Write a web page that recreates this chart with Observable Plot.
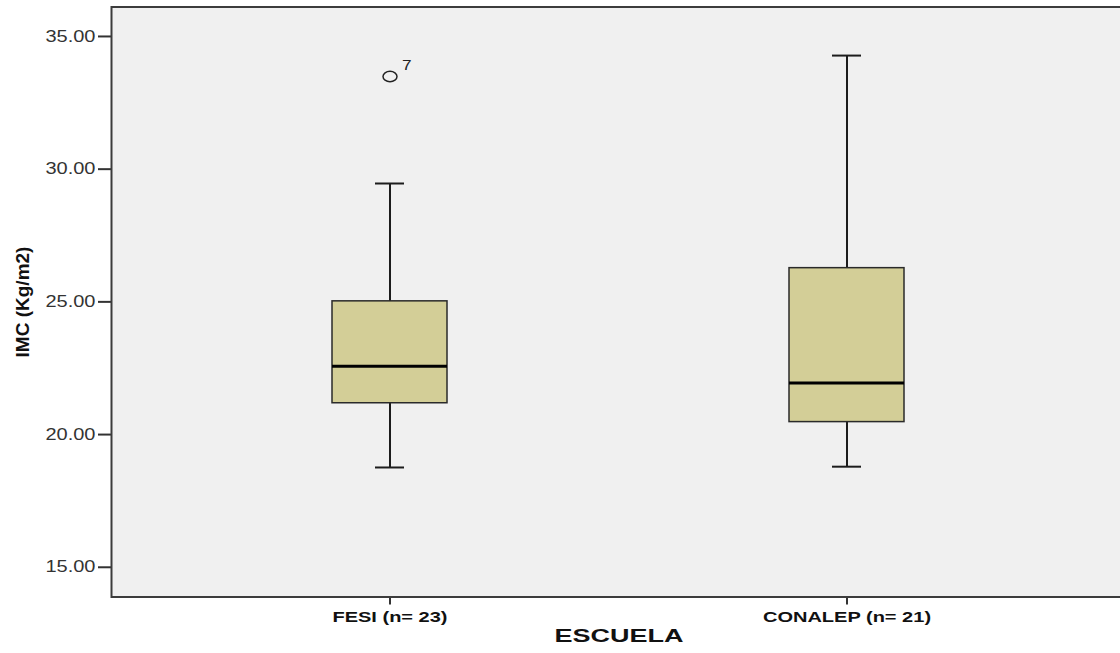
<!DOCTYPE html>
<html><head><meta charset="utf-8">
<script src="https://cdn.jsdelivr.net/npm/d3@7"></script>
<script src="https://cdn.jsdelivr.net/npm/@observablehq/plot@0.6"></script>
<style>
body{margin:0;background:#fff;overflow:hidden}
#chart svg{max-width:none !important;display:block}
</style>
</head><body><div id="chart"></div>
<script>
// --- data ---
const schools = ["FESI (n= 23)", "CONALEP (n= 21)"];
const whiskerLow = [18.76, 18.79];
const q1 = [21.18, 20.47];
const median = [22.57, 21.94];
const q3 = [25.02, 26.27];
const whiskerHigh = [29.46, 34.28];
const outlierSchool = ["FESI (n= 23)"];
const outlierValue = [33.49];
const outlierLabel = ["7"];
const yTicks = [15, 20, 25, 30, 35];
const yTitle = "IMC (Kg/m2)";
const xTitle = "ESCUELA";

const boxes = schools.map((s, i) => ({school: s, lo: whiskerLow[i], q1: q1[i], median: median[i], q3: q3[i], hi: whiskerHigh[i]}));
const outliers = outlierSchool.map((s, i) => ({school: s, value: outlierValue[i], label: outlierLabel[i]}));

// elliptical open marker (SPSS outlier circle, stretched horizontally)
const ellipse = {
  draw(context) {
    const rx = 7, ry = 5.2, k = 0.5523;
    context.moveTo(rx, 0);
    context.bezierCurveTo(rx, ry * k, rx * k, ry, 0, ry);
    context.bezierCurveTo(-rx * k, ry, -rx, ry * k, -rx, 0);
    context.bezierCurveTo(-rx, -ry * k, -rx * k, -ry, 0, -ry);
    context.bezierCurveTo(rx * k, -ry, rx, -ry * k, rx, 0);
    context.closePath();
  }
};

const ink = "#1c1c1c";
const chart = Plot.plot({
  width: 1120,
  height: 653,
  marginLeft: 111,
  marginRight: -6,
  marginTop: 6.5,
  marginBottom: 56.5,
  style: {background: "#fff", fontFamily: "'Liberation Sans', Arial, sans-serif", color: ink},
  x: {domain: schools, paddingInner: 0.748, paddingOuter: 0.4845, axis: null},
  y: {domain: [13.88, 36.11], axis: null},
  marks: [
    Plot.frame({fill: "#f0f0f0"}),
    Plot.ruleX(boxes, {x: "school", y1: "lo", y2: "hi", stroke: ink, strokeWidth: 2}),
    Plot.tickY(boxes, {x: "school", y: "lo", insetLeft: 43, insetRight: 43, stroke: ink, strokeWidth: 2}),
    Plot.tickY(boxes, {x: "school", y: "hi", insetLeft: 43, insetRight: 43, stroke: ink, strokeWidth: 2}),
    Plot.barY(boxes, {x: "school", y1: "q1", y2: "q3", fill: "#d3ce97", stroke: "#2a2a2a", strokeWidth: 1.5}),
    Plot.tickY(boxes, {x: "school", y: "median", stroke: "#000", strokeWidth: 3}),
    Plot.dot(outliers, {x: "school", y: "value", symbol: ellipse, stroke: "#222", strokeWidth: 1.5, fill: "none"}),
    Plot.text(outliers, {x: "school", y: "value", text: "label", dx: 12, dy: -11, textAnchor: "start", fontSize: 15, fill: "#222"}),
    Plot.axisY({ticks: yTicks, tickFormat: d => d.toFixed(2), tickSize: 13, tickPadding: 3, fontSize: 16, label: null, strokeWidth: 2, stroke: "#333", fill: "#333"}),
    Plot.axisX({tickSize: 8, tickPadding: 7, fontSize: 14, fontWeight: "bold", label: null, strokeWidth: 2, stroke: "#333", fill: "#111"}),
    Plot.frame({stroke: "#3c3c3c", strokeWidth: 2}),
    Plot.text([yTitle], {frameAnchor: "left", textAnchor: "middle", dx: -89, rotate: -90, fontSize: 19, fontWeight: "bold", fill: "#111"}),
    Plot.text([xTitle], {frameAnchor: "bottom", textAnchor: "middle", dy: 45, fontSize: 18, fontWeight: "bold", fill: "#111"})
  ]
});
document.getElementById("chart").appendChild(chart);

// the reference text is horizontally stretched; emulate it
function stretchText(test, sx) {
  chart.querySelectorAll("text").forEach(t => {
    if (!test(t)) return;
    const tr = t.getAttribute("transform");
    if (tr) {
      t.setAttribute("transform", tr + ` scale(${sx},1)`);
    } else {
      const x = +(t.getAttribute("x") || 0), y = +(t.getAttribute("y") || 0);
      t.setAttribute("transform", `translate(${x},${y}) scale(${sx},1) translate(${-x},${-y})`);
    }
  });
}
const yLabels = yTicks.map(d => d.toFixed(2));
stretchText(t => yLabels.includes(t.textContent), 1.25);
stretchText(t => schools.includes(t.textContent), 1.43);
stretchText(t => t.textContent === xTitle, 1.5);
stretchText(t => outlierLabel.includes(t.textContent), 1.15);
</script>
</body></html>
